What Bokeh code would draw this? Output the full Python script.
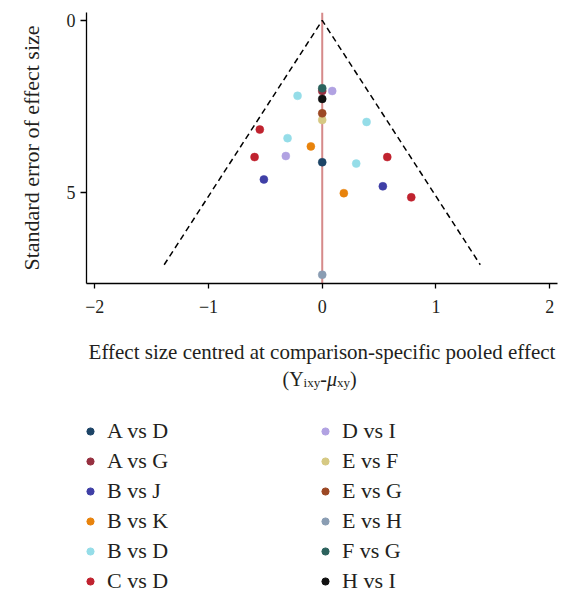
from bokeh.plotting import figure
from bokeh.layouts import column
from bokeh.models import Range1d, FixedTicker, Span, Legend, LegendItem, Label
from bokeh.embed import file_html
from bokeh.resources import INLINE

# ---- data ----
groups = ["A vs D", "A vs G", "B vs J", "B vs K", "B vs D", "C vs D",
          "D vs I", "E vs F", "E vs G", "E vs H", "F vs G", "H vs I"]
group_colors = ["#1d4466", "#963040", "#3f3fa6", "#e8830c", "#95dde8", "#c0232f",
                "#b1a2e2", "#d6c983", "#9c4824", "#8a9db3", "#2c625d", "#111111"]

pt_group = ["F vs G", "A vs G", "D vs I", "B vs D", "H vs I", "E vs G", "E vs F",
            "B vs D", "C vs D", "B vs D", "B vs K", "C vs D", "D vs I", "A vs D",
            "B vs D", "C vs D", "B vs J", "B vs J", "B vs K", "C vs D", "E vs H"]
pt_effect = [0.0, 0.0, 0.088, -0.217, 0.0, 0.0, 0.0,
             0.39, -0.549, -0.305, -0.10, -0.595, -0.32, 0.0,
             0.299, 0.572, -0.513, 0.533, 0.19, 0.783, 0.0]
pt_se = [1.97, 2.05, 2.05, 2.19, 2.28, 2.70, 2.89,
         2.95, 3.17, 3.42, 3.66, 3.97, 3.94, 4.12,
         4.16, 3.97, 4.62, 4.82, 5.02, 5.14, 7.39]

funnel_x = [-1.39, 0.0, 1.39]
funnel_y = [7.1, 0.0, 7.1]

x_ticks = [-2, -1, 0, 1, 2]
x_tick_labels = ["\u22122", "\u22121", "0", "1", "2"]
y_ticks = [0, 5]

FONT = "Liberation Serif"
TXT = "#231f20"

# ---------------- main funnel plot ----------------
H1 = 366
p = figure(width=562, height=H1, output_backend="svg", toolbar_location=None,
           x_range=Range1d(-2.073, 2.069), y_range=Range1d(7.644, -0.231),
           min_border_left=86, min_border_right=5, min_border_top=12, min_border_bottom=H1 - 285)
p.outline_line_color = None
p.xgrid.visible = False
p.ygrid.visible = False

p.line(funnel_x, funnel_y, line_color="black", line_width=1.5, line_dash="6 4")
p.add_layout(Span(location=0, dimension="height", line_color="#d68a8a",
                  line_width=2, level="underlay"))

for g, c in zip(groups, group_colors):
    xs = [e for e, gg in zip(pt_effect, pt_group) if gg == g]
    ys = [s for s, gg in zip(pt_se, pt_group) if gg == g]
    p.scatter(xs, ys, size=8, fill_color=c, line_color=c, line_width=0.5)

for ax in (p.xaxis[0], p.yaxis[0]):
    ax.axis_line_color = "black"
    ax.axis_line_width = 1.3
    ax.major_tick_line_color = "black"
    ax.major_tick_line_width = 1.3
    ax.major_tick_in = 0
    ax.minor_tick_line_color = None
    ax.major_label_text_font = FONT
    ax.major_label_text_font_size = "18px"
    ax.major_label_text_color = TXT
    ax.axis_label_text_font = FONT
    ax.axis_label_text_font_style = "normal"
    ax.axis_label_text_color = TXT

p.xaxis.ticker = FixedTicker(ticks=x_ticks)
p.xaxis.major_label_overrides = {t: l for t, l in zip(x_ticks, x_tick_labels)}
p.xaxis.major_tick_out = 5
p.xaxis.major_label_standoff = 11
p.xaxis.axis_label = "Effect size centred at comparison-specific pooled effect"
p.xaxis.axis_label_text_font_size = "21px"
p.xaxis.axis_label_standoff = 24

p.yaxis.ticker = FixedTicker(ticks=y_ticks)
p.yaxis.major_tick_out = 6
p.yaxis.major_label_standoff = 5
p.yaxis.axis_label = "Standard error of effect size"
p.yaxis.axis_label_text_font_size = "22px"
p.yaxis.axis_label_standoff = 20

# ---------------- lower panel: formula line + legend ----------------
H2 = 593 - H1
q = figure(width=562, height=H2, output_backend="svg", toolbar_location=None,
           x_range=Range1d(0, 471), y_range=Range1d(0, H2),
           x_axis_location=None, y_axis_location=None,
           min_border=0, min_border_left=0, min_border_right=0,
           min_border_top=0, min_border_bottom=0)
q.outline_line_color = None
q.xgrid.visible = False
q.ygrid.visible = False

items = []
for g, c in zip(groups, group_colors):
    xs = [e for e, gg in zip(pt_effect, pt_group) if gg == g]
    ys = [s for s, gg in zip(pt_se, pt_group) if gg == g]
    r = q.scatter(xs, ys, size=8, fill_color=c, line_color=c, visible=False)
    items.append(LegendItem(label=g, renderers=[r]))

legend = Legend(items=items, location=(-5, -1), orientation="vertical", nrows=6,
                glyph_width=18, glyph_height=18, label_standoff=8, label_width=205,
                label_height=25, spacing=4, padding=0, margin=0,
                border_line_color=None, background_fill_alpha=0,
                label_text_font=FONT, label_text_font_size="22px", label_text_color=TXT)
q.add_layout(legend, "center")

# second line of x-axis title: (Y_ixy - mu_xy)
parts = [("(Y", 196.0, 215.0, "20px", "normal"),
         ("ixy", 217.1, 211.5, "13px", "normal"),
         ("-", 233.7, 215.0, "20px", "normal"),
         ("\u03bc", 240.4, 215.0, "20px", "italic"),
         ("xy", 250.4, 211.5, "13px", "normal"),
         (")", 263.4, 215.0, "20px", "normal")]
for t, x, y, fs, st in parts:
    q.add_layout(Label(x=x, y=y, x_units="screen", y_units="screen", text=t,
                       text_font=FONT, text_font_size=fs, text_font_style=st,
                       text_color=TXT, text_baseline="alphabetic", text_align="left"))

layout = column(p, q, spacing=0)
open("out.html", "w").write(file_html(layout, INLINE))
